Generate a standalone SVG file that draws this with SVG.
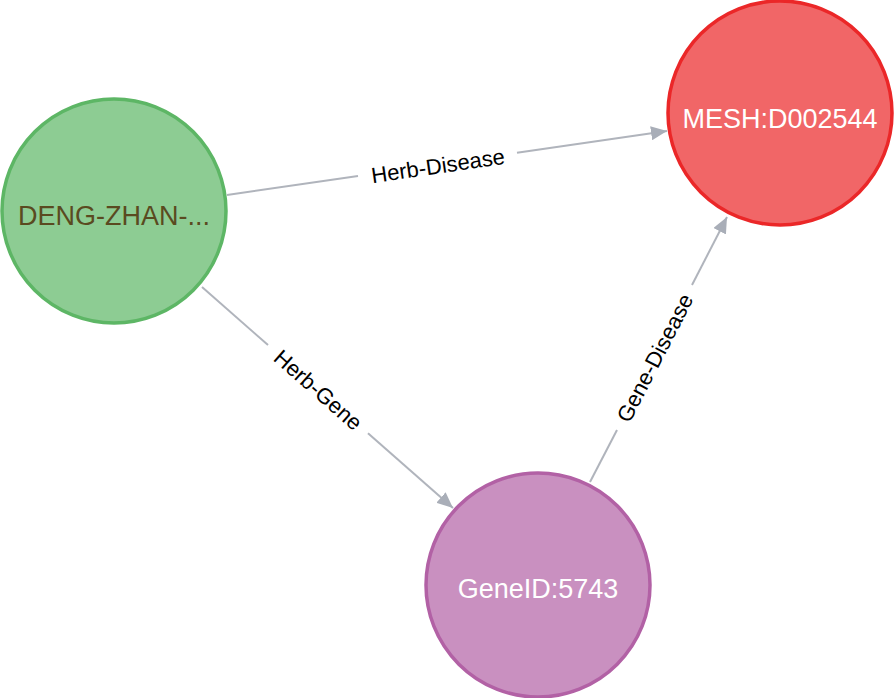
<svg xmlns="http://www.w3.org/2000/svg" width="896" height="698" viewBox="0 0 896 698">
<style>
.edge{stroke:#B0B4BC;stroke-width:2;fill:none}
.elabel{font-family:"Liberation Sans",Arial,sans-serif;font-size:22px;fill:#000;text-anchor:middle;dominant-baseline:central}
.nlabel{font-family:"Liberation Sans",Arial,sans-serif;font-size:27px;text-anchor:middle}
</style>
<defs>
<marker id="arrow" viewBox="0 0 16 14" refX="16" refY="7" markerWidth="16" markerHeight="14" markerUnits="userSpaceOnUse" orient="auto">
<path d="M0,0 L16,7 L0,14 z" fill="#A9AEB8"/>
</marker>
</defs>
<rect width="896" height="698" fill="#fff"/>
<g id="connectors">
<g id="e-herb-disease">
<line class="edge" x1="227" y1="195" x2="358" y2="176"/>
<line class="edge" x1="517" y1="152.8" x2="667" y2="131" marker-end="url(#arrow)"/>
<text class="elabel" transform="translate(438,166) rotate(-8.3)">Herb-Disease</text>
</g>
<g id="e-herb-gene">
<line class="edge" x1="202" y1="287" x2="268" y2="345.1"/>
<line class="edge" x1="368" y1="433.2" x2="453" y2="508" marker-end="url(#arrow)"/>
<text class="elabel" transform="translate(318,390) rotate(41.4)">Herb-Gene</text>
</g>
<g id="e-gene-disease">
<line class="edge" x1="590" y1="482" x2="617" y2="430"/>
<line class="edge" x1="692" y1="285" x2="727" y2="217" marker-end="url(#arrow)"/>
<text class="elabel" transform="translate(655,358) rotate(-62.7)">Gene-Disease</text>
</g>
</g>
<g id="n-herb">
<circle cx="114" cy="211" r="112" fill="#8DCC93" stroke="#5DB665" stroke-width="3.5"/>
<text class="nlabel" x="114" y="225" fill="#5a4a20">DENG-ZHAN-...</text>
</g>
<g id="n-disease">
<circle cx="780" cy="113" r="112" fill="#F16667" stroke="#EB2728" stroke-width="3.5"/>
<text class="nlabel" x="780" y="128" fill="#fff">MESH:D002544</text>
</g>
<g id="n-gene">
<circle cx="538" cy="585" r="112" fill="#C990C0" stroke="#B261A5" stroke-width="3.5"/>
<text class="nlabel" x="538" y="598" fill="#fff">GeneID:5743</text>
</g>
</svg>
